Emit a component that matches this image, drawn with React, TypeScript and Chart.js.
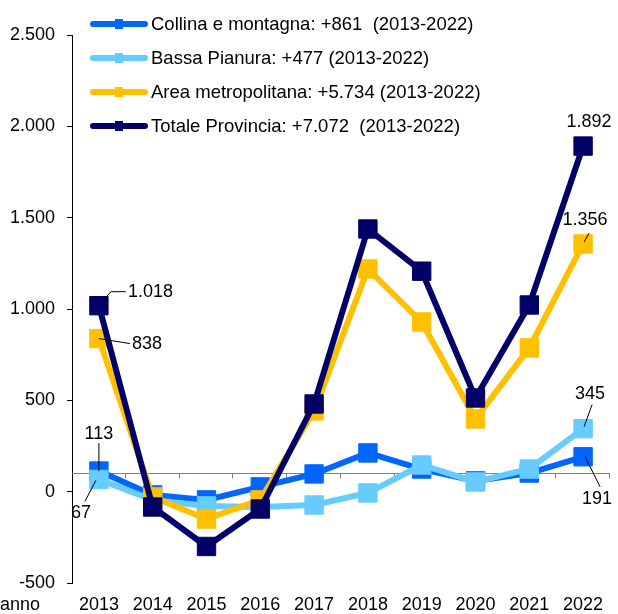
import React, { useEffect, useRef } from 'react';
import { Chart, registerables } from 'chart.js';

Chart.register(...registerables);

const years = ['2013', '2014', '2015', '2016', '2017', '2018', '2019', '2020', '2021', '2022'];
const collina = [113, -18, -45, 26, 97, 212, 124, 59, 102, 191];
const bassa = [67, -45, -78, -84, -73, -7, 146, 53, 124, 345];
const area = [838, -29, -150, -45, 442, 1219, 929, 398, 787, 1356];
const totale = [1018, -84, -300, -95, 480, 1438, 1207, 513, 1022, 1892];

const seriesNames = [
  'Collina e montagna: +861  (2013-2022)',
  'Bassa Pianura: +477 (2013-2022)',
  'Area metropolitana: +5.734 (2013-2022)',
  'Totale Provincia: +7.072  (2013-2022)',
];
const seriesColors = ['#0066FF', '#66CCFF', '#FFC000', '#000066'];
const seriesData = [collina, bassa, area, totale];

const yMin = -500;
const yMax = 2500;
const yStep = 500;
const xAxisValue = 100;
const axisTitle = 'anno';

const FAMILY = 'Arial, "Liberation Sans", sans-serif';
const FONT = '18px ' + FAMILY;
const LEGEND_FONT = '18.5px ' + FAMILY;

function fmt(v: number): string {
  const s = Math.abs(Math.round(v)).toString().replace(/\B(?=(\d{3})+(?!\d))/g, '.');
  return (v < 0 ? '-' : '') + s;
}

// data label annotations: dataset index, point index, text offset and leader line (relative to the point)
const annotations = [
  { ds: 3, i: 0, dx: 29, dy: -14, align: 'left', leader: [[3, -4], [12, -14], [27, -14]] },
  { ds: 2, i: 0, dx: 33, dy: 5, align: 'left', leader: [[0, 0], [31, 5]] },
  { ds: 0, i: 0, dx: 0, dy: -37, align: 'center', leader: [[0, 0], [0, -28]] },
  { ds: 1, i: 0, dx: -28, dy: 34, align: 'left', leader: [[-3, 1], [-14, 22]] },
  { ds: 3, i: 9, dx: 6, dy: -24, align: 'center', leader: null },
  { ds: 2, i: 9, dx: 2, dy: -24, align: 'center', leader: [[1, -2], [6, -11]] },
  { ds: 1, i: 9, dx: 7, dy: -35, align: 'center', leader: [[1, -2], [9, -24]] },
  { ds: 0, i: 9, dx: 14, dy: 42, align: 'center', leader: [[2, 0], [17, 30]] },
];

const overlayPlugin = {
  id: 'overlay',
  beforeDatasetsDraw(chart: any) {
    const { ctx, chartArea, scales } = chart;
    const y = Math.round(scales.y.getPixelForValue(xAxisValue)) + 0.5;
    ctx.save();
    ctx.strokeStyle = '#808080';
    ctx.lineWidth = 1;
    ctx.beginPath();
    ctx.moveTo(chartArea.left, y);
    ctx.lineTo(chartArea.right, y);
    const n = years.length;
    const w = (chartArea.right - chartArea.left) / n;
    for (let k = 1; k <= n; k++) {
      const x = Math.round(chartArea.left + k * w) - 0.5;
      ctx.moveTo(x, y);
      ctx.lineTo(x, y + 5);
    }
    ctx.stroke();
    ctx.restore();
  },
  afterDatasetsDraw(chart: any) {
    const { ctx } = chart;
    ctx.save();
    ctx.font = FONT;
    ctx.fillStyle = '#000';
    ctx.strokeStyle = '#000';
    ctx.lineWidth = 1;
    ctx.textBaseline = 'middle';
    for (const a of annotations) {
      const meta = chart.getDatasetMeta(a.ds);
      const pt = meta.data[a.i];
      const px = pt.x;
      const py = pt.y;
      if (a.leader) {
        ctx.beginPath();
        a.leader.forEach((p: number[], k: number) => {
          if (k === 0) ctx.moveTo(px + p[0], py + p[1]);
          else ctx.lineTo(px + p[0], py + p[1]);
        });
        ctx.stroke();
      }
      ctx.textAlign = a.align;
      const val = seriesData[a.ds][a.i];
      ctx.fillText(fmt(val), px + a.dx, py + a.dy);
    }
    // axis title
    ctx.textAlign = 'left';
    ctx.fillText(axisTitle, 0, 605);
    // legend
    ctx.font = LEGEND_FONT;
    seriesNames.forEach((name, k) => {
      const ly = 24 + k * 34;
      ctx.strokeStyle = seriesColors[k];
      ctx.lineWidth = 6;
      ctx.lineCap = 'round';
      ctx.beginPath();
      ctx.moveTo(93, ly);
      ctx.lineTo(145, ly);
      ctx.stroke();
      ctx.fillStyle = seriesColors[k];
      ctx.fillRect(115, ly - 5, 8, 10);
      ctx.fillStyle = '#000';
      ctx.textAlign = 'left';
      ctx.fillText(name, 151, ly + 1);
    });
    ctx.restore();
  },
};

export default function App() {
  const ref = useRef<HTMLCanvasElement>(null);
  useEffect(() => {
    if (!ref.current) return;
    const chart = new Chart(ref.current, {
      type: 'line',
      data: {
        labels: years,
        datasets: seriesData.map((d, k) => ({
          label: seriesNames[k],
          data: d,
          borderColor: seriesColors[k],
          backgroundColor: seriesColors[k],
          borderWidth: 6,
          pointStyle: 'rect',
          pointRadius: 13,
          pointBorderWidth: 1,
          pointBorderColor: seriesColors[k],
          pointBackgroundColor: seriesColors[k],
          tension: 0,
          fill: false,
          clip: false,
          order: 4 - k,
        })),
      },
      options: {
        animation: false,
        responsive: false,
        events: [],
        layout: { autoPadding: false, padding: { top: 35, right: 8, left: 0, bottom: 0 } },
        plugins: { legend: { display: false }, tooltip: { enabled: false } },
        scales: {
          x: {
            type: 'category',
            offset: true,
            grid: { display: false, drawTicks: false },
            border: { display: false },
            ticks: {
              color: '#000',
              font: { family: FAMILY, size: 18, lineHeight: 2.4 },
              padding: 0,
              maxRotation: 0,
              autoSkip: false,
            },
            afterFit: (s: any) => {
              s.height = 31;
              s.paddingLeft = 0;
              s.paddingRight = 0;
            },
          },
          y: {
            min: yMin,
            max: yMax,
            ticks: {
              stepSize: yStep,
              color: '#000',
              font: { family: FAMILY, size: 18 },
              padding: 12,
              callback: (v: any) => fmt(Number(v)),
            },
            grid: { drawOnChartArea: false, color: '#000', tickLength: 5 },
            border: { color: '#000', width: 1 },
            afterFit: (s: any) => {
              s.width = 72;
              s.paddingTop = 0;
              s.paddingBottom = 0;
            },
          },
        },
      },
      plugins: [overlayPlugin],
    });
    return () => chart.destroy();
  }, []);
  return (
    <div style={{ position: 'absolute', left: 0, top: 0, width: 618, height: 614, background: '#fff' }}>
      <canvas ref={ref} width={618} height={614} style={{ display: 'block' }} />
    </div>
  );
}
